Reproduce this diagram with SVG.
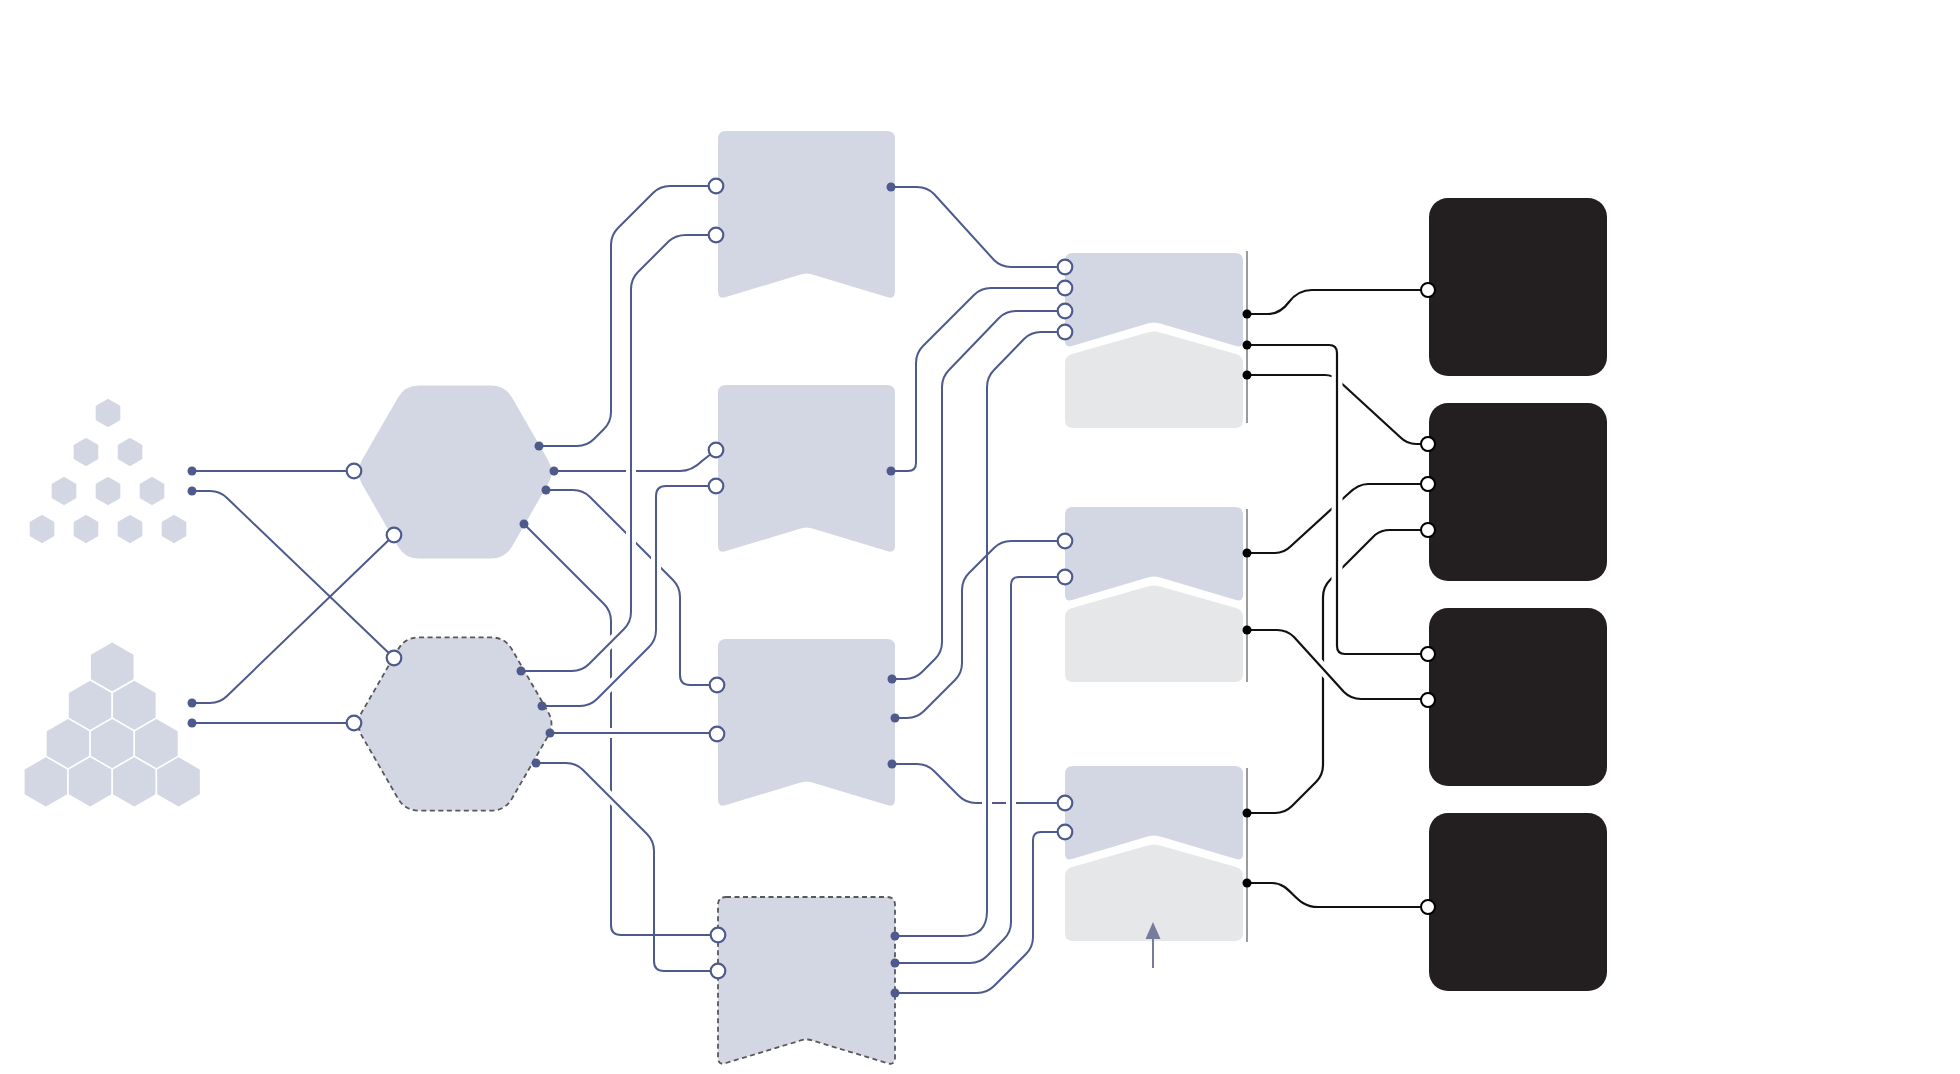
<svg xmlns="http://www.w3.org/2000/svg" width="1960" height="1074" viewBox="0 0 1960 1074">
<style>
.nb{fill:#d3d7e3}
.ng{fill:#e6e7e9}
.nk{fill:#231f20}
.dash{stroke:#57585c;stroke-width:1.8;stroke-dasharray:5 3.5}
.sh{fill:#d3d7e3;stroke:#d3d7e3;stroke-width:3;stroke-linejoin:round}
.bh{fill:#d3d7e3;stroke:#ffffff;stroke-width:1.5}
.bl{fill:none;stroke:#4e5a8c;stroke-width:2}
.kl{fill:none;stroke:#111111;stroke-width:2.2}
.halo{fill:none;stroke:#ffffff;stroke-width:10}
.bd{fill:#4e5a8c}
.bc{fill:#ffffff;stroke:#4e5a8c;stroke-width:2.2}
.kd{fill:#000000}
.kc{fill:#ffffff;stroke:#000000;stroke-width:2}
.vl{stroke:#707070;stroke-width:1.4}
</style>
<defs>
<polygon id="shex" points="0,-12.5 10.83,-6.25 10.83,6.25 0,12.5 -10.83,6.25 -10.83,-6.25"/>
<polygon id="bhex" points="0,-25.5 22.08,-12.75 22.08,12.75 0,25.5 -22.08,12.75 -22.08,-12.75"/>
</defs>
<rect width="1960" height="1074" fill="#ffffff"/>

<g id="cluster-small">
<use href="#shex" class="sh" x="108" y="413"/>
<use href="#shex" class="sh" x="86" y="452"/>
<use href="#shex" class="sh" x="130" y="452"/>
<use href="#shex" class="sh" x="64" y="491"/>
<use href="#shex" class="sh" x="108" y="491"/>
<use href="#shex" class="sh" x="152" y="491"/>
<use href="#shex" class="sh" x="42" y="529"/>
<use href="#shex" class="sh" x="86" y="529"/>
<use href="#shex" class="sh" x="130" y="529"/>
<use href="#shex" class="sh" x="174" y="529"/>
</g>
<g id="cluster-large">
<use href="#bhex" class="bh" x="112.2" y="667"/>
<use href="#bhex" class="bh" x="90.1" y="705.3"/>
<use href="#bhex" class="bh" x="134.3" y="705.3"/>
<use href="#bhex" class="bh" x="68" y="743.6"/>
<use href="#bhex" class="bh" x="112.2" y="743.6"/>
<use href="#bhex" class="bh" x="156.4" y="743.6"/>
<use href="#bhex" class="bh" x="45.9" y="781.9"/>
<use href="#bhex" class="bh" x="90.1" y="781.9"/>
<use href="#bhex" class="bh" x="134.3" y="781.9"/>
<use href="#bhex" class="bh" x="178.5" y="781.9"/>
</g>

<g id="hex-a">
<path class="nb" d="M398,397.5 Q405,385.4 419,385.4 H491 Q505,385.4 512,397.5 L548,459.9 Q555,472 548,484.1 L512,546.5 Q505,558.6 491,558.6 H419 Q405,558.6 398,546.5 L362,484.1 Q355,472 362,459.9 Z"/>
</g>
<g id="hex-b">
<path class="nb dash" d="M398,649.5 Q405,637.4 419,637.4 H491 Q505,637.4 512,649.5 L548,711.9 Q555,724 548,736.1 L512,798.5 Q505,810.6 491,810.6 H419 Q405,810.6 398,798.5 L362,736.1 Q355,724 362,711.9 Z"/>
</g>

<g id="banner-1">
<path class="nb" d="M726,131 H887 Q895,131 895,139 V291 Q895,300 887,297 L814,275 Q806.5,272 799,275 L726,297 Q718,300 718,291 V139 Q718,131 726,131 Z"/>
</g>
<g id="banner-2">
<path class="nb" d="M726,385 H887 Q895,385 895,393 V545 Q895,554 887,551 L814,529 Q806.5,526 799,529 L726,551 Q718,554 718,545 V393 Q718,385 726,385 Z"/>
</g>
<g id="banner-3">
<path class="nb" d="M726,639 H887 Q895,639 895,647 V799 Q895,808 887,805 L814,783 Q806.5,780 799,783 L726,805 Q718,808 718,799 V647 Q718,639 726,639 Z"/>
</g>
<g id="banner-4">
<path class="nb dash" d="M726,897 H887 Q895,897 895,905 V1057 Q895,1066 887,1063 L814,1041 Q806.5,1038 799,1041 L726,1063 Q718,1066 718,1057 V905 Q718,897 726,897 Z"/>
</g>

<g id="stage-1">
<path class="nb" d="M1073,253 H1235 Q1243,253 1243,261 V341 Q1243,348 1236,346 L1162,324 Q1154,321 1146,324 L1072,346 Q1065,348 1065,341 V261 Q1065,253 1073,253 Z"/>
<path class="ng" d="M1065,363 Q1065,356 1072,354 L1146,333 Q1154,330 1162,333 L1236,354 Q1243,356 1243,363 V420 Q1243,428 1235,428 H1073 Q1065,428 1065,420 Z"/>
<line class="vl" x1="1247" y1="251" x2="1247" y2="423"/>
</g>
<g id="stage-2">
<path class="nb" d="M1073,507 H1235 Q1243,507 1243,515 V595 Q1243,602 1236,600 L1162,578 Q1154,575 1146,578 L1072,600 Q1065,602 1065,595 V515 Q1065,507 1073,507 Z"/>
<path class="ng" d="M1065,617 Q1065,610 1072,608 L1146,587 Q1154,584 1162,587 L1236,608 Q1243,610 1243,617 V674 Q1243,682 1235,682 H1073 Q1065,682 1065,674 Z"/>
<line class="vl" x1="1247" y1="509" x2="1247" y2="682"/>
</g>
<g id="stage-3">
<path class="nb" d="M1073,766 H1235 Q1243,766 1243,774 V854 Q1243,861 1236,859 L1162,837 Q1154,834 1146,837 L1072,859 Q1065,861 1065,854 V774 Q1065,766 1073,766 Z"/>
<path class="ng" d="M1065,876 Q1065,869 1072,867 L1146,846 Q1154,843 1162,846 L1236,867 Q1243,869 1243,876 V933 Q1243,941 1235,941 H1073 Q1065,941 1065,933 Z"/>
<line class="vl" x1="1247" y1="768" x2="1247" y2="942"/>
<line x1="1153" y1="968" x2="1153" y2="936" stroke="#767c9c" stroke-width="2"/>
<polygon points="1153,922 1160.5,939 1145.5,939" fill="#767c9c"/>
</g>

<g id="box-1"><rect class="nk" x="1429" y="198" width="178" height="178" rx="19"/></g>
<g id="box-2"><rect class="nk" x="1429" y="403" width="178" height="178" rx="19"/></g>
<g id="box-3"><rect class="nk" x="1429" y="608" width="178" height="178" rx="19"/></g>
<g id="box-4"><rect class="nk" x="1429" y="813" width="178" height="178" rx="19"/></g>

<g id="connectors">
<path class="bl" d="M192,471 H354"/>
<path class="bl" d="M192,491 H210 Q220,491 227,498 L394,658"/>
<path class="bl" d="M192,703 H210 Q220,703 227,696 L394,535"/>
<path class="bl" d="M192,723 H354"/>
<path class="bl" d="M539,446 H577 Q587,446 594,439 L604,429 Q611,422 611,412 V245 Q611,235 618,228 L653,193 Q660,186 670,186 H716"/>
<path class="bl" d="M554,471 H680 Q692,471 702,461 L716,450"/>
<path class="bl" d="M546,490 H573 Q583,490 590,497 L673,580 Q680,587 680,597 V675 Q680,685 690,685 H717"/>
<path class="bl" d="M524,524 L604,604 Q611,611 611,621 V925 Q611,935 621,935 H718"/>
<path class="bl" d="M891,187 H917 Q927,187 934,194 L994,260 Q1001,267 1011,267 H1065"/>
<path class="bl" d="M891,471 H908 Q916,471 916,463 V363 Q916,353 923,346 L974,295 Q981,288 991,288 H1065"/>
<path class="bl" d="M892,679 H905 Q915,679 922,672 L935,659 Q942,652 942,642 V387 Q942,377 949,370 L999,318 Q1006,311 1016,311 H1065"/>
<path class="bl" d="M895,718 H907 Q917,718 924,711 L955,680 Q962,673 962,663 V590 Q962,580 969,573 L994,548 Q1001,541 1011,541 H1065"/>
<path class="bl" d="M892,764 H917 Q927,764 934,771 L959,796 Q966,803 976,803 H1065"/>
<path class="bl" d="M895,993 H977 Q987,993 994,986 L1026,954 Q1033,947 1033,937 V840 Q1033,832 1041,832 H1065"/>
<path class="kl" d="M1247,314 H1268 Q1280,314 1289,302 Q1298,290 1312,290 H1428"/>
<path class="kl" d="M1247,375 H1325 Q1333,375 1339,381 L1400,437 Q1407,444 1416,444 H1428"/>
<path class="kl" d="M1247,553 H1275 Q1284,553 1291,546 L1348,494 Q1358,484 1368,484 H1428"/>
<path class="kl" d="M1247,813 H1275 Q1285,813 1292,806 L1316,782 Q1323,775 1323,765 V597 Q1323,587 1330,580 L1375,535 Q1381,530 1390,530 H1428"/>
<path class="kl" d="M1247,883 H1272 C1292,883 1294,907 1318,907 H1428"/>
<path class="halo" d="M631,455 V575"/>
<path class="halo" d="M656,545 V590"/>
<path class="halo" d="M601,652 L621,632"/>
<path class="halo" d="M601,695 L621,675"/>
<path class="halo" d="M600,733 H622"/>
<path class="halo" d="M601,788 L621,808"/>
<path class="halo" d="M987,790 V816"/>
<path class="halo" d="M1011,790 V816"/>
<path class="halo" style="stroke-width:11" d="M1337,365 V600"/>
<path class="halo" style="stroke-width:11" d="M1315,660 L1331,678"/>
<path class="bl" d="M521,671 H572 Q582,671 589,664 L624,629 Q631,622 631,612 V289 Q631,279 638,272 L669,241 Q676,235 686,235 H716"/>
<path class="bl" d="M542,706 H580 Q590,706 597,699 L649,647 Q656,640 656,630 V496 Q656,486 666,486 H716"/>
<path class="bl" d="M550,733 H717"/>
<path class="bl" d="M536,763 H566 Q576,763 583,770 L647,834 Q654,841 654,851 V961 Q654,971 664,971 H718"/>
<path class="bl" d="M895,936 H962 Q987,936 987,911 V387 Q987,377 994,370 L1024,339 Q1031,332 1041,332 H1065"/>
<path class="bl" d="M895,963 H970 Q980,963 987,956 L1004,939 Q1011,932 1011,922 V585 Q1011,577 1019,577 H1065"/>
<path class="kl" d="M1247,345 H1329 Q1337,345 1337,353 V646 Q1337,654 1345,654 H1428"/>
<path class="kl" d="M1247,630 H1277 Q1287,630 1294,637 L1344,692 Q1351,699 1361,699 H1428"/>
</g>

<g id="ports">
<circle class="bd" cx="192" cy="471" r="4.5"/>
<circle class="bd" cx="192" cy="491" r="4.5"/>
<circle class="bd" cx="192" cy="703" r="4.5"/>
<circle class="bd" cx="192" cy="723" r="4.5"/>
<circle class="bc" cx="354" cy="471" r="7.3"/>
<circle class="bc" cx="394" cy="535" r="7.3"/>
<circle class="bc" cx="394" cy="658" r="7.3"/>
<circle class="bc" cx="354" cy="723" r="7.3"/>
<circle class="bd" cx="539" cy="446" r="4.5"/>
<circle class="bd" cx="554" cy="471" r="4.5"/>
<circle class="bd" cx="546" cy="490" r="4.5"/>
<circle class="bd" cx="524" cy="524" r="4.5"/>
<circle class="bd" cx="521" cy="671" r="4.5"/>
<circle class="bd" cx="542" cy="706" r="4.5"/>
<circle class="bd" cx="550" cy="733" r="4.5"/>
<circle class="bd" cx="536" cy="763" r="4.5"/>
<circle class="bc" cx="716" cy="186" r="7.3"/>
<circle class="bc" cx="716" cy="235" r="7.3"/>
<circle class="bc" cx="716" cy="450" r="7.3"/>
<circle class="bc" cx="716" cy="486" r="7.3"/>
<circle class="bc" cx="717" cy="685" r="7.3"/>
<circle class="bc" cx="717" cy="734" r="7.3"/>
<circle class="bc" cx="718" cy="935" r="7.3"/>
<circle class="bc" cx="718" cy="971" r="7.3"/>
<circle class="bd" cx="891" cy="187" r="4.5"/>
<circle class="bd" cx="891" cy="471" r="4.5"/>
<circle class="bd" cx="892" cy="679" r="4.5"/>
<circle class="bd" cx="895" cy="718" r="4.5"/>
<circle class="bd" cx="892" cy="764" r="4.5"/>
<circle class="bd" cx="895" cy="936" r="4.5"/>
<circle class="bd" cx="895" cy="963" r="4.5"/>
<circle class="bd" cx="895" cy="993" r="4.5"/>
<circle class="bc" cx="1065" cy="267" r="7.3"/>
<circle class="bc" cx="1065" cy="288" r="7.3"/>
<circle class="bc" cx="1065" cy="311" r="7.3"/>
<circle class="bc" cx="1065" cy="332" r="7.3"/>
<circle class="bc" cx="1065" cy="541" r="7.3"/>
<circle class="bc" cx="1065" cy="577" r="7.3"/>
<circle class="bc" cx="1065" cy="803" r="7.3"/>
<circle class="bc" cx="1065" cy="832" r="7.3"/>
<circle class="kd" cx="1247" cy="314" r="4.5"/>
<circle class="kd" cx="1247" cy="345" r="4.5"/>
<circle class="kd" cx="1247" cy="375" r="4.5"/>
<circle class="kd" cx="1247" cy="553" r="4.5"/>
<circle class="kd" cx="1247" cy="630" r="4.5"/>
<circle class="kd" cx="1247" cy="813" r="4.5"/>
<circle class="kd" cx="1247" cy="883" r="4.5"/>
<circle class="kc" cx="1428" cy="290" r="7"/>
<circle class="kc" cx="1428" cy="444" r="7"/>
<circle class="kc" cx="1428" cy="484" r="7"/>
<circle class="kc" cx="1428" cy="530" r="7"/>
<circle class="kc" cx="1428" cy="654" r="7"/>
<circle class="kc" cx="1428" cy="700" r="7"/>
<circle class="kc" cx="1428" cy="907" r="7"/>
</g>
</svg>
